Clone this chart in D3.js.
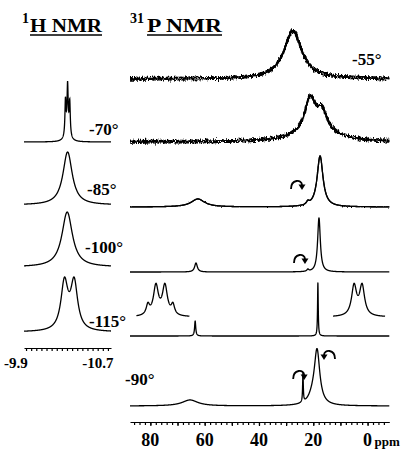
<!DOCTYPE html>
<html><head><meta charset="utf-8">
<script src="https://cdn.jsdelivr.net/npm/d3@7"></script>
<style>
body{margin:0;background:#fff}
svg{display:block}
text{font-family:"Liberation Serif","Times New Roman",serif;font-weight:bold;fill:#000}
</style></head><body>
<svg id="c" width="409" height="453"></svg>
<script>
// ---------------- data ----------------
const pRows = ["-55°","-70°","-85°","-100°","-115°","-90°"];
const hRows = ["-70°","-85°","-100°","-115°"];
// 31P peaks: position (ppm), height (relative intensity), half-width (ppm)
const p55  = [{ppm:27.5,h:48,w:4}];
const p70  = [{ppm:21.2,h:31,w:2.2},{ppm:16.8,h:18,w:2.2},{ppm:19,h:13,w:8}];
const p85  = [{ppm:17.5,h:51,w:1.3},{ppm:22,h:3,w:0.6},{ppm:62.5,h:8,w:3}];
const p100 = [{ppm:17.9,h:54,w:0.6},{ppm:22,h:2,w:0.4},{ppm:63.2,h:9,w:0.6}];
const p115 = [{ppm:18.3,h:53,w:0.15},{ppm:63.5,h:15,w:0.25}];
const p90  = [{ppm:18.6,h:52,w:1.2},{ppm:20,h:8,w:2},{ppm:23.8,h:29,w:0.15},{ppm:65.4,h:6,w:3.5}];
const pPeaks = {"-55°":p55,"-70°":p70,"-85°":p85,"-100°":p100,"-115°":p115,"-90°":p90};
// expansions shown in the -115° spectrum (offsets in Hz)
const insetLeft  = [{ppm:-12.5,h:10,w:2},{ppm:-4.5,h:30,w:3},{ppm:4.5,h:30,w:3},{ppm:12.5,h:10,w:2}];
const insetRight = [{ppm:-4,h:30,w:3},{ppm:4,h:30,w:3}];
// 1H hydride peaks
const h70  = [{ppm:-10.335,h:34,w:0.006},{ppm:-10.356,h:42,w:0.006},{ppm:-10.377,h:32,w:0.006},{ppm:-10.356,h:14,w:0.022}];
const h85  = [{ppm:-10.356,h:53,w:0.055}];
const h100 = [{ppm:-10.352,h:55,w:0.062}];
const h115 = [{ppm:-10.325,h:47.4,w:0.041},{ppm:-10.42,h:47.4,w:0.041}];
const hPeaks = {"-70°":h70,"-85°":h85,"-100°":h100,"-115°":h115};
// curved arrows: row, ppm, height, direction
const arrows = [{row:"-85°",ppm:26,h:23,dir:1},{row:"-100°",ppm:24.9,h:14,dir:1},
                {row:"-90°",ppm:25.2,h:32,dir:1},{row:"-90°",ppm:14.2,h:52,dir:-1}];
const pTicks = [80,60,40,20,0];
const hTicks = [-9.9,-10.7];
const noisyRows = {"-55°":8,"-70°":8,"-85°":2};

// ---------------- layout ----------------
const L = {
  pBase:{"-55°":79,"-70°":142,"-85°":207,"-100°":272,"-115°":336,"-90°":406},
  hBase:{"-70°":142,"-85°":205,"-100°":267,"-115°":332},
  pLab:{"-55°":[352,65],"-90°":[125,385]},
  hLab:{"-70°":[89,135],"-85°":[87,195],"-100°":[85,253],"-115°":[89,327]},
  pAxisY:422, hAxisY:348
};

const svg = d3.select("#c");
const defs = svg.append("defs");
function noiseFilter(id, scale, seed){
  const f = defs.append("filter").attr("id",id).attr("filterUnits","userSpaceOnUse")
    .attr("x",0).attr("y",0).attr("width",409).attr("height",453)
    .attr("color-interpolation-filters","sRGB");
  f.append("feTurbulence").attr("type","fractalNoise").attr("baseFrequency","1.4 0.2")
    .attr("numOctaves",2).attr("seed",seed).attr("result","t");
  f.append("feColorMatrix").attr("in","t").attr("type","matrix")
    .attr("values","0 0 0 0 0.5  0 1 0 0 0  0 0 0 0 0  0 0 0 0 1").attr("result","m");
  f.append("feDisplacementMap").attr("in","SourceGraphic").attr("in2","m").attr("scale",scale)
    .attr("xChannelSelector","R").attr("yChannelSelector","G");
}

const lor = (peaks, v) => d3.sum(peaks, p => p.h/(1+((v-p.ppm)/p.w)**2));

// ---- 31P panel ----
const x = d3.scaleLinear().domain([87.5,-8]).range([130,389.3]);
const pSamp = d3.range(87.5,-8.001,-0.02);
pRows.forEach((r,i)=>{
  const base = L.pBase[r];
  const y = d3.scaleLinear().domain([0,100]).range([base, base-100]);
  const line = d3.line().x(d=>x(d)).y(d=>y(lor(pPeaks[r],d)));
  const nz = noisyRows[r];
  const copies = nz>5 ? [0,1,2] : (nz ? [0,1] : [0]);
  copies.forEach(c=>{
    const p = svg.append("path").attr("d",line(pSamp)).attr("fill","none")
      .attr("stroke","#000").attr("stroke-width", nz>5?1.8:1.3).attr("stroke-linejoin","round");
    if(nz){ const id="nz"+i+"_"+c; noiseFilter(id, nz, i*7+c*13+3); p.attr("filter",`url(#${id})`); }
  });
});
// insets in -115
function inset(peaks, centerPpm, dom){
  const base = L.pBase["-115°"];
  const y = d3.scaleLinear().domain([0,100]).range([base-19, base-119]);
  const cx = x(centerPpm);
  const xi = d3.scaleLinear().domain(dom).range([cx+dom[0], cx+dom[1]]);
  const s = d3.range(dom[0],dom[1]+0.01,0.1);
  svg.append("path").attr("d",d3.line().x(d=>xi(d)).y(d=>y(lor(peaks,d)))(s))
    .attr("fill","none").attr("stroke","#000").attr("stroke-width",1.3);
}
inset(insetLeft, 76.3, [-24,29]);
inset(insetRight, 3.5, [-25,27]);

// arrows
arrows.forEach(a=>{
  const base = L.pBase[a.row];
  const cx = x(a.ppm), cy = base - a.h, d = a.dir;
  const g = svg.append("g");
  g.append("path").attr("d",`M${cx-6*d},${cy+5} C${cx-6*d},${cy-5} ${cx+5*d},${cy-5} ${cx+5*d},${cy+1}`)
    .attr("fill","none").attr("stroke","#000").attr("stroke-width",1.8);
  g.append("path").attr("d",`M${cx+1.5*d},${cy+0.5} L${cx+8.5*d},${cy+0.5} L${cx+5*d},${cy+6} Z`).attr("fill","#000");
});

// P axis
const pAx = svg.append("g").attr("transform",`translate(0,${L.pAxisY})`)
  .call(d3.axisBottom(x).tickValues(d3.range(-6,88,2)).tickSize(3).tickSizeOuter(0).tickFormat(""));
pAx.selectAll("path,line").attr("stroke","#000").attr("stroke-width",1.2);
svg.append("g").attr("transform",`translate(0,${L.pAxisY})`)
  .call(d3.axisBottom(x).tickValues(d3.range(0,88,10)).tickSize(4).tickSizeOuter(0).tickFormat(""))
  .call(g=>{g.select(".domain").remove(); g.selectAll("line").attr("stroke","#000").attr("stroke-width",1.2);});
svg.selectAll(".ptl").data(pTicks).join("text").attr("class","ptl")
  .attr("x",d=>x(d)).attr("y",446).attr("text-anchor","middle").attr("font-size",18).text(d=>d);
svg.append("text").attr("x",x(0)+7).attr("y",446).attr("font-size",13).text("ppm");

// ---- 1H panel ----
const hx = d3.scaleLinear().domain([-9.93,-10.78]).range([24,111]);
const hSamp = d3.range(-9.93,-10.7801,-0.001);
hRows.forEach(r=>{
  const base = L.hBase[r];
  const y = d3.scaleLinear().domain([0,100]).range([base, base-100]);
  svg.append("path").attr("d",d3.line().x(d=>hx(d)).y(d=>y(lor(hPeaks[r],d)))(hSamp))
    .attr("fill","none").attr("stroke","#000").attr("stroke-width",1.3);
});
const hAx = svg.append("g").attr("transform",`translate(0,${L.hAxisY})`)
  .call(d3.axisBottom(hx).tickValues(d3.range(-9.95,-10.78,-0.05)).tickSize(3).tickSizeOuter(0).tickFormat(""));
hAx.selectAll("path,line").attr("stroke","#000").attr("stroke-width",1.2);
svg.selectAll(".htl").data(hTicks).join("text").attr("class","htl")
  .attr("x",d=>hx(d)-5).attr("y",368).attr("text-anchor","middle").attr("font-size",15).text(d=>d);

// row labels
Object.entries(L.pLab).forEach(([k,v])=>svg.append("text").attr("x",v[0]).attr("y",v[1]).attr("font-size",17).text(k));
Object.entries(L.hLab).forEach(([k,v])=>svg.append("text").attr("x",v[0]).attr("y",v[1]).attr("font-size",17).text(k));

// titles
function title(sup, main, x0, xm, wm){
  svg.append("text").attr("x",x0).attr("y",23).attr("font-size",14).text(sup);
  svg.append("text").attr("x",xm).attr("y",32).attr("font-size",18.5)
    .attr("textLength",wm).attr("lengthAdjust","spacingAndGlyphs").text(main);
  svg.append("line").attr("x1",xm).attr("x2",xm+wm).attr("y1",35).attr("y2",35)
    .attr("stroke","#000").attr("stroke-width",1.5);
}
title("1","H NMR",22,30,72);
title("31","P NMR",130,147,75);
</script></body></html>
